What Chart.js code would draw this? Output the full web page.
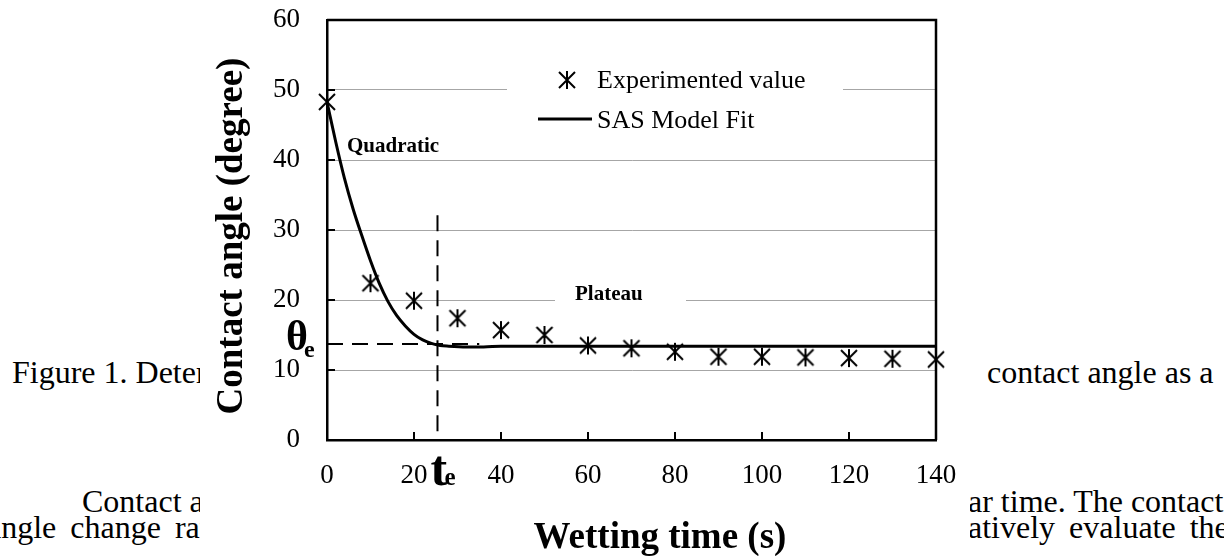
<!DOCTYPE html>
<html>
<head>
<meta charset="utf-8">
<title>Contact angle vs wetting time</title>
<script src="https://cdn.jsdelivr.net/npm/chart.js@4.4.1/dist/chart.umd.min.js"></script>
<style>
  html, body { margin: 0; padding: 0; background: #fff; }
  body { width: 1224px; height: 556px; position: relative; overflow: hidden;
         font-family: "Liberation Serif", "Times New Roman", serif; color: #000; }
  .doc { position: absolute; font-size: 32px; line-height: 32px; white-space: pre; }
  #box { position: absolute; left: 200px; top: 0; width: 770px; height: 556px; background: #fff; z-index: 2; }
</style>
</head>
<body>
<!-- page text around the figure -->
<div class="doc" style="left:12px; top:356px">Figure 1. Determination of the</div>
<div class="doc" style="left:987px; top:356px">contact angle as a</div>
<div class="doc" style="left:82px; top:485px">Contact angle decreased with</div>
<div class="doc" style="left:968px; top:485px">ar time. The contact</div>
<div class="doc" style="left:-13px; top:511px; word-spacing:6px">angle change rate was</div>
<div class="doc" style="left:968px; top:511px; word-spacing:6px">atively evaluate the</div>

<div id="box"><canvas id="chart"></canvas></div>

<script>
'use strict';

// ── Data ───────────────────────────────────────
const TIMES  = [0, 10, 20, 30, 40, 50, 60, 70, 80, 90, 100, 110, 120, 130, 140];
const ANGLES = [48.3, 22.4, 19.9, 17.4, 15.7, 15.0, 13.5, 13.1, 12.6, 11.9, 11.9, 11.8, 11.7, 11.6, 11.5];

// SAS model fit
const FIT_TIMES  = [0, 2, 4, 6, 8, 10, 12, 14, 16, 18, 20, 22, 24, 26, 28, 32, 36, 40, 140];
const FIT_ANGLES = [48.3, 42.6, 37.4, 33.0, 29.2, 25.6, 22.4, 19.8, 17.8, 16.3, 15.1, 14.3, 13.8, 13.5, 13.4, 13.3, 13.3, 13.4, 13.4];

const T_E     = 25.4;   // end of quadratic part
const THETA_E = 13.7;   // plateau angle
const TE_LINE_TOP  = 32.1;
const THETA_LINE_END = 35;

const X_TICKS = [0, 20, 40, 60, 80, 100, 120, 140];
const Y_TICKS = [0, 10, 20, 30, 40, 50, 60];

const FONT = '"Liberation Serif", "Times New Roman", serif';

// ── Asterisk marker (X + vertical bar) ─────────
function makeStar(size, lw) {
  const c = document.createElement('canvas');
  c.width = c.height = size;
  const g = c.getContext('2d');
  const h = size / 2, r = h - lw;
  g.strokeStyle = '#000';
  g.lineWidth = lw;
  g.beginPath();
  g.moveTo(h - r, h - r); g.lineTo(h + r, h + r);
  g.moveTo(h + r, h - r); g.lineTo(h - r, h + r);
  g.moveTo(h, h - r - 1); g.lineTo(h, h + r + 1);
  g.stroke();
  return c;
}
const STAR = makeStar(20, 2);

// ── Decorations: frame, inward ticks, labels, legend ──
const decor = {
  id: 'decor',
  beforeDatasetsDraw(chart) {
    const { ctx } = chart;
    ctx.save();
    ctx.fillStyle = '#fff';
    ctx.fillRect(307, 58, 336, 84);     // legend background
    ctx.fillRect(355, 283, 131, 24);    // "Plateau" background
    ctx.restore();
  },
  afterDraw(chart) {
    const { ctx, chartArea: a, scales: { x, y } } = chart;
    ctx.save();
    ctx.strokeStyle = '#000';

    // top & right frame
    ctx.lineWidth = 2.5;
    ctx.beginPath();
    ctx.moveTo(a.left, a.top);
    ctx.lineTo(a.right, a.top);
    ctx.lineTo(a.right, a.bottom);
    ctx.stroke();

    // inward tick marks
    ctx.lineWidth = 2;
    ctx.beginPath();
    Y_TICKS.forEach(v => {
      const p = y.getPixelForValue(v);
      ctx.moveTo(a.left, p); ctx.lineTo(a.left + 8, p);
    });
    X_TICKS.forEach(v => {
      const p = x.getPixelForValue(v);
      ctx.moveTo(p, a.bottom); ctx.lineTo(p, a.bottom - 8);
    });
    ctx.stroke();

    ctx.fillStyle = '#000';
    ctx.textBaseline = 'alphabetic';

    // axis titles
    ctx.font = 'bold 37px ' + FONT;
    ctx.textAlign = 'center';
    ctx.fillText('Wetting time (s)', 460, 548);
    ctx.save();
    ctx.translate(42, 236);
    ctx.rotate(-Math.PI / 2);
    ctx.fillText('Contact angle (degree)', 0, 0);
    ctx.restore();

    // region labels
    ctx.textAlign = 'left';
    ctx.font = 'bold 21px ' + FONT;
    ctx.fillText('Quadratic', 147, 152);
    ctx.fillText('Plateau', 375, 300);

    // θe and te
    const ty = y.getPixelForValue(THETA_E);
    ctx.font = 'bold 42px ' + FONT;
    ctx.fillText('θ', 86, ty + 6);
    ctx.font = 'bold 24px ' + FONT;
    ctx.fillText('e', 104, ty + 13);

    const tx = x.getPixelForValue(T_E);
    ctx.font = 'bold 50px ' + FONT;
    ctx.fillText('t', tx - 7, 485);
    ctx.font = 'bold 25px ' + FONT;
    ctx.fillText('e', tx + 7, 485);

    // legend
    ctx.drawImage(STAR, 357, 70, 20, 20);
    ctx.lineWidth = 3;
    ctx.beginPath();
    ctx.moveTo(338, 119); ctx.lineTo(392, 119);
    ctx.stroke();
    ctx.font = '26px ' + FONT;
    ctx.fillText('Experimented value', 397, 88);
    ctx.fillText('SAS Model Fit', 397, 128);

    ctx.restore();
  }
};

// ── Chart ──────────────────────────────────────
const pts = (xs, ys) => xs.map((v, i) => ({ x: v, y: ys[i] }));

new Chart(document.getElementById('chart'), {
  type: 'scatter',
  data: {
    datasets: [
      {
        label: 'Experimented value',
        data: pts(TIMES, ANGLES),
        pointStyle: STAR,
        pointRadius: 10,
        clip: false,
        order: 0,
      },
      {
        label: 'SAS Model Fit',
        data: pts(FIT_TIMES, FIT_ANGLES),
        showLine: true,
        borderColor: '#000',
        borderWidth: 3,
        pointRadius: 0,
        cubicInterpolationMode: 'monotone',
        order: 1,
      },
      {
        label: 'te',
        data: [{ x: T_E, y: TE_LINE_TOP }, { x: T_E, y: 0 }],
        showLine: true,
        borderColor: '#000',
        borderWidth: 2,
        borderDash: [16, 9],
        pointRadius: 0,
        order: 2,
      },
      {
        label: 'θe',
        data: [{ x: 0, y: THETA_E }, { x: THETA_LINE_END, y: THETA_E }],
        showLine: true,
        borderColor: '#000',
        borderWidth: 2,
        borderDash: [16, 9],
        pointRadius: 0,
        order: 2,
      },
    ],
  },
  options: {
    responsive: true,
    maintainAspectRatio: false,
    animation: false,
    events: [],
    layout: { padding: { top: 20, right: 34, left: 0, bottom: 0 } },
    plugins: { legend: { display: false }, tooltip: { enabled: false } },
    scales: {
      x: {
        type: 'linear',
        min: 0, max: 140,
        afterFit: s => { s.height = 116; s.paddingLeft = 0; s.paddingRight = 0; },
        afterBuildTicks: s => { s.ticks = X_TICKS.map(v => ({ value: v })); },
        grid: { display: false, drawTicks: false },
        border: { color: '#000', width: 2.5 },
        ticks: { color: '#000', padding: 20, font: { family: FONT, size: 27, lineHeight: 1.2 } },
      },
      y: {
        type: 'linear',
        min: 0, max: 60,
        afterFit: s => { s.width = 127; s.paddingTop = 0; s.paddingBottom = 0; },
        afterBuildTicks: s => { s.ticks = Y_TICKS.map(v => ({ value: v })); },
        grid: { color: '#a6a6a6', lineWidth: 1, drawTicks: false },
        border: { color: '#000', width: 2.5 },
        ticks: { color: '#000', padding: 27, font: { family: FONT, size: 27 } },
      },
    },
  },
  plugins: [decor],
});
</script>
</body>
</html>
